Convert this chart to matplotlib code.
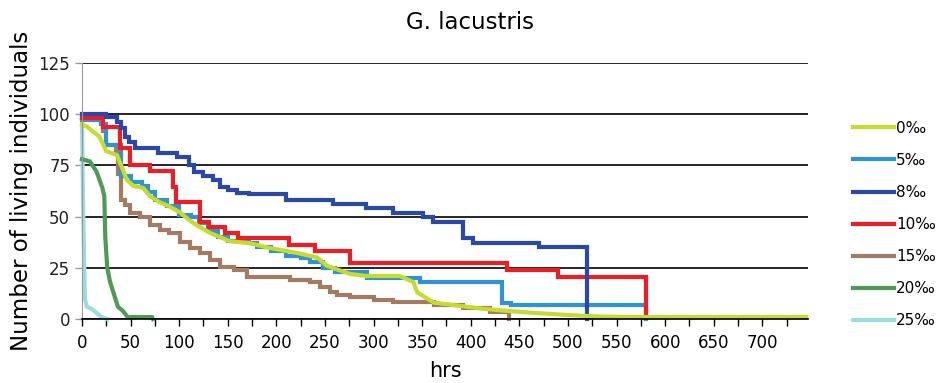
import matplotlib.pyplot as plt
import numpy as np

# hours / number alive
t0 = [0, 5, 18, 25, 36, 42, 46, 53, 63, 70, 80, 90, 101, 111, 121, 132, 142, 152, 173, 190,
      224, 242, 252, 276, 293, 327, 341, 345, 362, 379, 413, 437, 465, 499, 533, 567, 745]
y0 = [95, 94, 89, 82, 80, 73, 68, 65, 64, 60, 57, 55, 52, 48, 45, 42, 40, 38, 37, 35,
      32, 30, 26, 22, 21, 21, 18, 13, 8, 7, 5, 4, 3, 2, 1.2, 1, 1]

t5 = [0, 20, 25, 40, 50, 62, 68, 75, 88, 100, 112, 120, 130, 140, 150, 172, 180, 195, 210,
      225, 235, 248, 260, 293, 348, 432, 441, 580]
y5 = [97, 95, 85, 70, 67, 65, 62, 58, 55, 51, 50, 47, 43, 40, 38, 37, 35, 33, 31,
      30, 28, 25, 23, 20, 18, 8, 7, 0]

t8 = [0, 25, 36, 40, 44, 48, 55, 78, 98, 110, 115, 125, 135, 142, 150, 160, 172, 210, 258,
      292, 320, 351, 361, 392, 402, 470, 520]
y8 = [100, 98.5, 96, 93.5, 89, 86.5, 83.5, 81, 79, 75, 72, 70, 68, 64.5, 63, 61.5, 61, 58, 56,
      54, 52, 50, 47.5, 39.5, 37, 35, 0]

t10 = [0, 22, 39, 49, 70, 94, 97, 121, 131, 147, 161, 213, 240, 276, 437, 490, 580]
y10 = [98, 94, 83.5, 75, 72.5, 64.5, 57, 47.5, 45, 42, 39.5, 36, 33.3, 27.5, 24, 20.7, 1]

t15 = [0, 22, 25, 35, 37, 40, 44, 49, 60, 70, 80, 90, 101, 111, 121, 132, 142, 156, 170,
       214, 235, 245, 255, 262, 276, 300, 320, 362, 392, 420, 439]
y15 = [98, 92, 85, 82, 71, 58, 55.6, 51.7, 50, 46, 43.4, 42, 37.7, 34.6, 32, 28.8, 25.5, 24, 20.5,
       19, 18, 15.8, 13.3, 11.7, 10.9, 9.3, 8.5, 6.8, 5.3, 3.6, 0]

t20 = [0, 8, 15, 18, 21, 23, 24, 26, 29, 33, 37, 42, 47, 72, 73]
y20 = [78, 77, 72, 68, 64, 60, 40, 25, 18, 12, 6, 4, 1, 1, 0]

t25 = [0, 1, 3, 5, 10, 15, 20, 26]
y25 = [100, 60, 10, 6, 5, 3, 1, 0]

labels = ["0‰", "5‰", "8‰", "10‰", "15‰", "20‰", "25‰"]
colors = ["#c5dc2a", "#2f93d5", "#2a48a8", "#ee1c24", "#a57a63", "#4f9a55", "#9edbe0"]

fig = plt.figure(figsize=(9.41, 3.83), dpi=100)
ax = fig.add_axes([0.0871, 0.167, 0.7716, 0.6685])

lw = 3.0
series = {
    "25‰": (t25, y25, "default"),
    "20‰": (t20, y20, "default"),
    "15‰": (t15, y15, "steps-post"),
    "5‰": (t5, y5, "steps-post"),
    "10‰": (t10, y10, "steps-post"),
    "8‰": (t8, y8, "steps-post"),
    "0‰": (t0, y0, "default"),
}
handles = {}
for lab, (t, y, ds) in series.items():
    c = colors[labels.index(lab)]
    ln, = ax.plot(t, y, color=c, lw=lw, drawstyle=ds, clip_on=False,
                  solid_joinstyle="miter", label=lab)
    handles[lab] = ln

ax.set_xlim(0, 747)
ax.set_ylim(0, 125)
ax.set_yticks([0, 25, 50, 75, 100, 125])
ax.set_xticks(np.arange(0, 701, 50))
ax.set_xticks(np.arange(0, 747, 25), minor=True)
ax.yaxis.grid(True, color="black", lw=1.2)
ax.set_axisbelow(True)
for s in ["top", "right"]:
    ax.spines[s].set_visible(False)
ax.spines["left"].set_color("#999999")
ax.spines["bottom"].set_color("black")
ax.spines["bottom"].set_linewidth(1.2)
ax.tick_params(axis="x", which="both", length=5, width=1, direction="out", colors="black",
               pad=6)
ax.tick_params(axis="y", length=5, width=1, direction="out", color="#999999",
               labelsize=12, labelcolor="#222222")
for lbl in ax.get_xticklabels():
    lbl.set_family("Liberation Sans Narrow")
    lbl.set_fontsize(12)

ax.set_xlabel("hrs", fontsize=15, labelpad=6)
ax.set_ylabel("Number of living individuals", fontsize=16.5, labelpad=4)
fig.text(0.5, 0.94, "G. lacustris", ha="center", va="center", fontsize=16.5)

fig.legend([handles[l] for l in labels], labels, loc="upper left",
           bbox_to_anchor=(0.906, 0.685), frameon=False, fontsize=11,
           handlelength=2.7, handletextpad=0.15, labelspacing=1.12,
           borderaxespad=0, borderpad=0)

fig.savefig("out.png", dpi=100)
